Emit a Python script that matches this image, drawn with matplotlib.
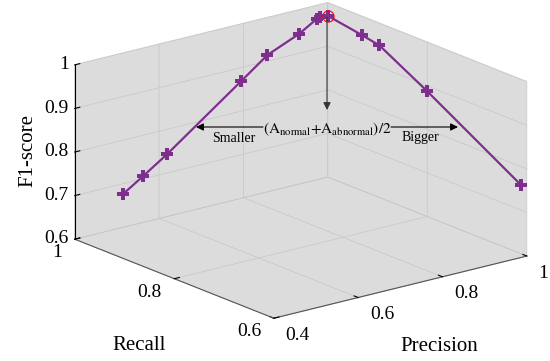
import matplotlib

matplotlib.use("Agg")
import matplotlib.pyplot as plt  # noqa: E402

# values
precision = [0.514, 0.562, 0.619, 0.795, 0.857, 0.933, 0.974, 0.981, 1.0,
             1.0, 1.0, 1.0, 1.0]
recall = [1.0, 1.0, 1.0, 1.0, 1.0, 1.0, 1.0, 1.0, 1.0,
          0.932, 0.896, 0.801, 0.612]
f1 = [0.676, 0.706, 0.743, 0.869, 0.914, 0.945, 0.969, 0.972, 0.970,
      0.957, 0.949, 0.888, 0.758]
best = 8  # index of the circled point

x_ticks = [0.4, 0.6, 0.8, 1.0]
x_labels = ["0.4", "0.6", "0.8", "1"]
y_ticks = [0.6, 0.8, 1.0]
y_labels = ["0.6", "0.8", "1"]
z_ticks = [0.6, 0.7, 0.8, 0.9, 1.0]
z_labels = ["0.6", "0.7", "0.8", "0.9", "1"]

PURPLE = "#7E2F8E"
SERIF = ["Liberation Serif", "DejaVu Serif"]

plt.rcParams["font.family"] = SERIF
plt.rcParams["mathtext.fontset"] = "stix"
plt.rcParams["grid.color"] = "#c6c6c6"
plt.rcParams["grid.linewidth"] = 0.5

fig = plt.figure(figsize=(5.5, 3.61), dpi=100)
ax = fig.add_axes([0.038, 0.042, 1.0, 1.0], projection="3d", proj_type="ortho")
ax.view_init(elev=18.2, azim=-128.2)
ax.set_box_aspect((1, 1, 0.57), zoom=1.32)

ax.plot(precision, recall, f1, color=PURPLE, lw=1.6, marker="P",
        markersize=8.5, markeredgewidth=0, clip_on=False)
ax.plot([precision[best]], [recall[best]], [f1[best]], marker="o",
        markersize=8, mfc="none", mec="red", mew=0.8, ls="none",
        clip_on=False)

ax.set_xlim(0.4, 1.0)
ax.set_ylim(0.6, 1.0)
ax.set_zlim(0.6, 1.0)
ax.set_xticks(x_ticks, x_labels, fontsize=14, ha="left", va="center_baseline")
ax.set_yticks(y_ticks, y_labels, fontsize=14, ha="right", va="center_baseline")
ax.set_zticks(z_ticks, z_labels, fontsize=14, ha="right", va="center")
ax.tick_params(axis="x", pad=0)
ax.tick_params(axis="y", pad=-1.3)
ax.tick_params(axis="z", pad=-6.2)
ax.set_xlabel("Precision", fontsize=15, labelpad=5.6)
ax.set_ylabel("Recall", fontsize=15, labelpad=12)
ax.set_zlabel("F1-score", fontsize=15, labelpad=-7)
ax.xaxis.set_rotate_label(False)
ax.yaxis.set_rotate_label(False)
ax.xaxis._axinfo["label"].update(ha="center", va="top")
ax.yaxis._axinfo["label"].update(ha="left", va="top")

for axis in (ax.xaxis, ax.yaxis, ax.zaxis):
    axis.set_pane_color((0.863, 0.863, 0.863, 1.0))
    axis._axinfo["tick"]["inward_factor"] = 0.0
    axis._axinfo["tick"]["outward_factor"] = 0.25
    axis._axinfo["tick"]["color"] = "#555555"
ax.xaxis.line.set_color("#555555")
ax.yaxis.line.set_color("#555555")
ax.zaxis.line.set_color("black")

# threshold annotation drawn in figure space
W, H = 550.0, 361.0


def fpt(px, py):
    return (px / W, 1 - py / H)


arrow = dict(arrowstyle="-|>", color="black", lw=0.8, mutation_scale=11,
             shrinkA=0, shrinkB=0)
fig.add_artist(matplotlib.text.Annotation(
    "", xy=fpt(327, 110), xytext=fpt(327, 17), xycoords="figure fraction",
    textcoords="figure fraction", arrowprops=dict(arrow, color="#333333")))
fig.add_artist(matplotlib.text.Annotation(
    "", xy=fpt(196, 127), xytext=fpt(263, 127), xycoords="figure fraction",
    textcoords="figure fraction", arrowprops=arrow))
fig.add_artist(matplotlib.text.Annotation(
    "", xy=fpt(458, 127), xytext=fpt(391, 127), xycoords="figure fraction",
    textcoords="figure fraction", arrowprops=arrow))
fig.text(*fpt(327, 129), r"$\mathrm{(A_{normal}{+}A_{abnormal})/2}$",
         ha="center", va="center", fontsize=11)
fig.text(*fpt(234, 138), "Smaller", ha="center", va="center", fontsize=10)
fig.text(*fpt(420, 138), "Bigger", ha="center", va="center", fontsize=10)

fig.savefig("out.png", dpi=100)
